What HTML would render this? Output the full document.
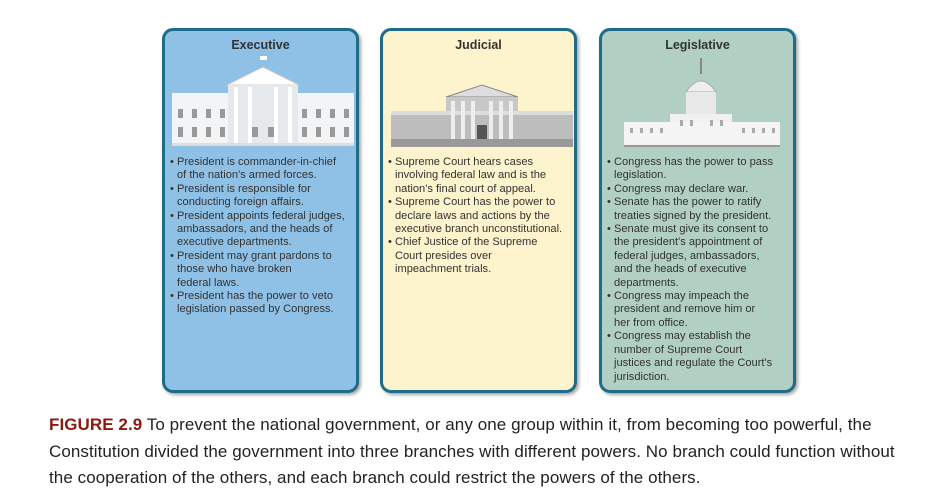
<!DOCTYPE html>
<html><head><style>
body{margin:0;width:945px;height:500px;background:#fff;font-family:"Liberation Sans",sans-serif;position:relative;overflow:hidden}
.p{position:absolute;top:28px;width:191px;height:359px;border:3px solid #1d6c8a;border-radius:11px;box-shadow:2px 2px 3px rgba(0,0,0,.35)}
.t{position:absolute;top:7px;left:0;right:0;text-align:center;font-weight:bold;font-size:12.5px;color:#333}
.b{position:absolute;top:125px;left:4px;right:2px;font-size:11.1px;line-height:13.4px;color:#333;white-space:nowrap}
.b div{padding-left:8px;text-indent:-7px}
svg{position:absolute}
.cap{position:absolute;left:49px;top:412px;width:890px;font-size:17px;letter-spacing:0.07px;line-height:26.5px;color:#222;white-space:nowrap}
.cap b{color:#8b1a10}
</style></head><body>
<div class="p" style="left:162px;background:#8fc0e6">
<div class="t">Executive</div>
<svg style="left:7px;top:24px" width="182" height="92" viewBox="0 0 182 92">
<rect x="88" y="1" width="7" height="4" fill="#fff"/>
<rect x="0" y="38" width="182" height="52" fill="#f2f4f6"/>
<polygon points="55,30 91,12 127,30" fill="#fff" stroke="#ccc"/>
<rect x="56" y="30" width="70" height="60" fill="#e6e9ec"/>
<g fill="#999"><rect x="6" y="54" width="5" height="9"/><rect x="20" y="54" width="5" height="9"/><rect x="34" y="54" width="5" height="9"/><rect x="48" y="54" width="5" height="9"/><rect x="130" y="54" width="5" height="9"/><rect x="144" y="54" width="5" height="9"/><rect x="158" y="54" width="5" height="9"/><rect x="172" y="54" width="5" height="9"/>
<rect x="6" y="72" width="5" height="10"/><rect x="20" y="72" width="5" height="10"/><rect x="34" y="72" width="5" height="10"/><rect x="48" y="72" width="5" height="10"/><rect x="130" y="72" width="5" height="10"/><rect x="144" y="72" width="5" height="10"/><rect x="158" y="72" width="5" height="10"/><rect x="172" y="72" width="5" height="10"/>
<rect x="80" y="72" width="6" height="10"/><rect x="96" y="72" width="6" height="10"/></g>
<g fill="#fff"><rect x="62" y="32" width="4" height="56"/><rect x="76" y="32" width="4" height="56"/><rect x="102" y="32" width="4" height="56"/><rect x="116" y="32" width="4" height="56"/></g>
<rect x="0" y="88" width="182" height="3" fill="#ddd"/>
</svg>
<div class="b"><div>• President is commander-in-chief<br>of the nation's armed forces.</div><div>• President is responsible for<br>conducting foreign affairs.</div><div>• President appoints federal judges,<br>ambassadors, and the heads of<br>executive departments.</div><div>• President may grant pardons to<br>those who have broken<br>federal laws.</div><div>• President has the power to veto<br>legislation passed by Congress.</div></div>
</div>
<div class="p" style="left:380px;background:#fdf3cc">
<div class="t">Judicial</div>
<svg style="left:8px;top:52px" width="182" height="66" viewBox="0 0 182 66">
<polygon points="55,14 91,2 127,14" fill="#ddd" stroke="#888"/>
<rect x="55" y="14" width="72" height="50" fill="#c8c8c8"/>
<rect x="0" y="30" width="182" height="34" fill="#bdbdbd"/>
<rect x="0" y="28" width="182" height="4" fill="#ddd"/>
<g fill="#eee"><rect x="60" y="18" width="4" height="40"/><rect x="70" y="18" width="4" height="40"/><rect x="80" y="18" width="4" height="40"/><rect x="98" y="18" width="4" height="40"/><rect x="108" y="18" width="4" height="40"/><rect x="118" y="18" width="4" height="40"/></g>
<rect x="86" y="42" width="10" height="16" fill="#555"/>
<rect x="0" y="56" width="182" height="8" fill="#999"/>
</svg>
<div class="b"><div>• Supreme Court hears cases<br>involving federal law and is the<br>nation's final court of appeal.</div><div>• Supreme Court has the power to<br>declare laws and actions by the<br>executive branch unconstitutional.</div><div>• Chief Justice of the Supreme<br>Court presides over<br>impeachment trials.</div></div>
</div>
<div class="p" style="left:599px;background:#b1cfc2">
<div class="t">Legislative</div>
<svg style="left:22px;top:27px" width="156" height="90" viewBox="0 0 156 90">
<rect x="76" y="0" width="2" height="16" fill="#888"/>
<path d="M62 34 Q77 12 92 34Z" fill="#eee" stroke="#aaa"/>
<rect x="62" y="34" width="30" height="22" fill="#e8e8e8"/>
<rect x="46" y="56" width="62" height="32" fill="#f0f0f0"/>
<rect x="0" y="64" width="156" height="24" fill="#f4f4f4"/>
<g fill="#aaa"><rect x="6" y="70" width="3" height="5"/><rect x="16" y="70" width="3" height="5"/><rect x="26" y="70" width="3" height="5"/><rect x="36" y="70" width="3" height="5"/><rect x="118" y="70" width="3" height="5"/><rect x="128" y="70" width="3" height="5"/><rect x="138" y="70" width="3" height="5"/><rect x="148" y="70" width="3" height="5"/><rect x="56" y="62" width="3" height="6"/><rect x="66" y="62" width="3" height="6"/><rect x="86" y="62" width="3" height="6"/><rect x="96" y="62" width="3" height="6"/></g>
<rect x="0" y="87" width="156" height="2" fill="#999"/>
</svg>
<div class="b"><div>• Congress has the power to pass<br>legislation.</div><div>• Congress may declare war.</div><div>• Senate has the power to ratify<br>treaties signed by the president.</div><div>• Senate must give its consent to<br>the president's appointment of<br>federal judges, ambassadors,<br>and the heads of executive<br>departments.</div><div>• Congress may impeach the<br>president and remove him or<br>her from office.</div><div>• Congress may establish the<br>number of Supreme Court<br>justices and regulate the Court's<br>jurisdiction.</div></div>
</div>
<div class="cap"><b>FIGURE 2.9</b> To prevent the national government, or any one group within it, from becoming too powerful, the<br>Constitution divided the government into three branches with different powers. No branch could function without<br>the cooperation of the others, and each branch could restrict the powers of the others.</div>
</body></html>
